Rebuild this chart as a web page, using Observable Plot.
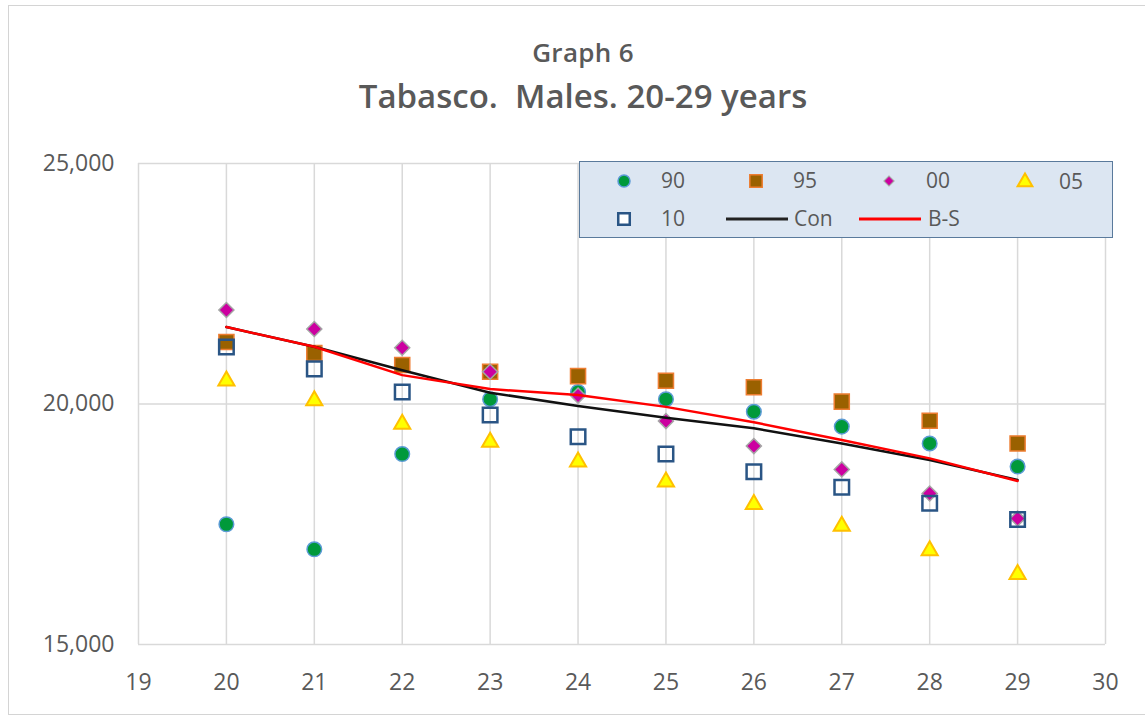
<!DOCTYPE html>
<html>
<head>
<meta charset="utf-8">
<script src="https://cdn.jsdelivr.net/npm/d3@7"></script>
<script src="https://cdn.jsdelivr.net/npm/@observablehq/plot@0.6"></script>
<style>
  html, body { margin: 0; padding: 0; background: #fff; }
  #wrap { position: relative; width: 1145px; height: 718px; overflow: hidden; font-family: "Open Sans", Lato, sans-serif; color: #595959; }
  #frame { position: absolute; left: 8px; top: 5px; width: 1160px; height: 710px; border: 1px solid #d4d4d4; box-sizing: border-box; }
  .title { position: absolute; left: 0; width: 1166px; text-align: center; font-weight: 600; color: #595959; white-space: pre; }
  #t1 { top: 34px; font-size: 26px; letter-spacing: 0.3px; }
  #t2 { top: 73px; font-size: 33px; }
  #chart { position: absolute; left: 0; top: 130px; }
  #legend { position: absolute; left: 579px; top: 161px; width: 534px; height: 77px; background: #dce6f2; border: 1.5px solid #5a7a9c; box-sizing: border-box; }
</style>
</head>
<body>
<div id="wrap">
  <div id="frame"></div>
  <div class="title" id="t1">Graph 6</div>
  <div class="title" id="t2">Tabasco.  Males. 20-29 years</div>
  <div id="chart"></div>
  <div id="legend"></div>
</div>
<script>
// ---- data ----
const ages = [20, 21, 22, 23, 24, 25, 26, 27, 28, 29];
const s90 = [17500, 16980, 18960, 20100, 20250, 20100, 19840, 19530, 19180, 18700];
const s95 = [21290, 21060, 20810, 20670, 20580, 20485, 20350, 20050, 19650, 19180];
const s00 = [21955, 21560, 21170, 20670, 20175, 19645, 19125, 18640, 18140, 17620];
const s05 = [20480, 20070, 19585, 19210, 18800, 18380, 17915, 17460, 16950, 16460];
const s10 = [21185, 20730, 20250, 19770, 19320, 18960, 18590, 18270, 17935, 17600];
const con = [21600, 21190, 20700, 20235, 19960, 19715, 19495, 19180, 18835, 18420];
const bs  = [21600, 21190, 20600, 20310, 20185, 19940, 19620, 19250, 18870, 18400];
const xTicks = [19, 20, 21, 22, 23, 24, 25, 26, 27, 28, 29, 30];
const yTicks = [15000, 20000, 25000];
const seriesNames = ["90", "95", "00", "05", "10", "Con", "B-S"];

const rows = vals => ages.map((a, i) => ({x: a, y: vals[i]}));

const fontFam = '"Open Sans", Lato, sans-serif';

const chart = Plot.plot({
  width: 1145,
  height: 590,
  marginLeft: 138,
  marginRight: 40,
  marginTop: 33,
  marginBottom: 76,
  style: {fontSize: "23px", fontFamily: fontFam, color: "#595959", background: "transparent", overflow: "visible"},
  x: {domain: [19, 30]},
  y: {domain: [15000, 25000]},
  marks: [
    Plot.gridX(xTicks, {stroke: "#d9d9d9", strokeOpacity: 1, strokeWidth: 1.5}),
    Plot.gridY(yTicks, {stroke: "#d9d9d9", strokeOpacity: 1, strokeWidth: 1.5}),
    Plot.axisX({ticks: xTicks, tickSize: 0, tickPadding: 29, tickFormat: d => String(d), label: null}),
    Plot.axisY({ticks: yTicks, tickSize: 0, tickPadding: 24, tickFormat: d3.format(","), label: null}),
    Plot.dot(rows(s90), {x: "x", y: "y", r: 7.3, fill: "#00993a", stroke: "#5b9bd5", strokeWidth: 1.5}),
    Plot.dot(rows(s95), {x: "x", y: "y", symbol: "square", r: 8.5, fill: "#9a6100", stroke: "#ed7d31", strokeWidth: 1.5}),
    Plot.dot(rows(s00), {x: "x", y: "y", symbol: "square", rotate: 45, r: 6, fill: "#cc00a0", stroke: "#a5a5a5", strokeWidth: 1.5}),
    Plot.dot(rows(s05), {x: "x", y: "y", symbol: "triangle", r: 6, fill: "#ffff00", stroke: "#ffc000", strokeWidth: 2}),
    Plot.dot(rows(s10), {x: "x", y: "y", symbol: "square", r: 8.2, fill: "none", stroke: "#2a5585", strokeWidth: 2.5}),
    Plot.line(rows(con), {x: "x", y: "y", stroke: "#111", strokeWidth: 2.5}),
    Plot.line(rows(bs), {x: "x", y: "y", stroke: "#ff0000", strokeWidth: 2.5})
  ]
});
document.getElementById("chart").appendChild(chart);

// ---- legend ----
const lg = d3.select("#legend").append("svg")
  .attr("width", 534).attr("height", 77)
  .style("position", "absolute").style("left", "-1.5px").style("top", "-1.5px")
  .style("font-family", fontFam).style("font-size", "21px").style("fill", "#595959");
const sym = (type, r) => d3.symbol(type, Math.PI * r * r)();
const items = [
  {name: seriesNames[0], sx: 45, y: 20, draw: g => g.append("path").attr("d", sym(d3.symbolCircle, 6)).attr("fill", "#00993a").attr("stroke", "#5b9bd5").attr("stroke-width", 1.5), tx: 82},
  {name: seriesNames[1], sx: 177, y: 20, draw: g => g.append("path").attr("d", sym(d3.symbolSquare, 7)).attr("fill", "#9a6100").attr("stroke", "#ed7d31").attr("stroke-width", 1.5), tx: 214},
  {name: seriesNames[2], sx: 310, y: 20, draw: g => g.append("path").attr("d", sym(d3.symbolSquare, 4)).attr("transform", "rotate(45)").attr("fill", "#cc00a0").attr("stroke", "#a5a5a5").attr("stroke-width", 1.2), tx: 347},
  {name: seriesNames[3], sx: 446, y: 21, draw: g => g.append("path").attr("d", sym(d3.symbolTriangle, 5.5)).attr("fill", "#ffff00").attr("stroke", "#ffc000").attr("stroke-width", 2), tx: 480},
  {name: seriesNames[4], sx: 45, y: 58, draw: g => g.append("path").attr("d", sym(d3.symbolSquare, 6.5)).attr("fill", "#fff").attr("stroke", "#2a5585").attr("stroke-width", 2.5), tx: 82},
  {name: seriesNames[5], sx: 178, y: 58, draw: g => g.append("line").attr("x1", -31).attr("x2", 31).attr("stroke", "#222").attr("stroke-width", 3), tx: 215},
  {name: seriesNames[6], sx: 311, y: 58, draw: g => g.append("line").attr("x1", -31).attr("x2", 31).attr("stroke", "#ff0000").attr("stroke-width", 3), tx: 349}
];
for (const it of items) {
  const g = lg.append("g").attr("transform", `translate(${it.sx},${it.y})`);
  it.draw(g);
  lg.append("text").attr("x", it.tx).attr("y", it.y).attr("dy", "0.35em").text(it.name);
}
</script>
</body>
</html>
